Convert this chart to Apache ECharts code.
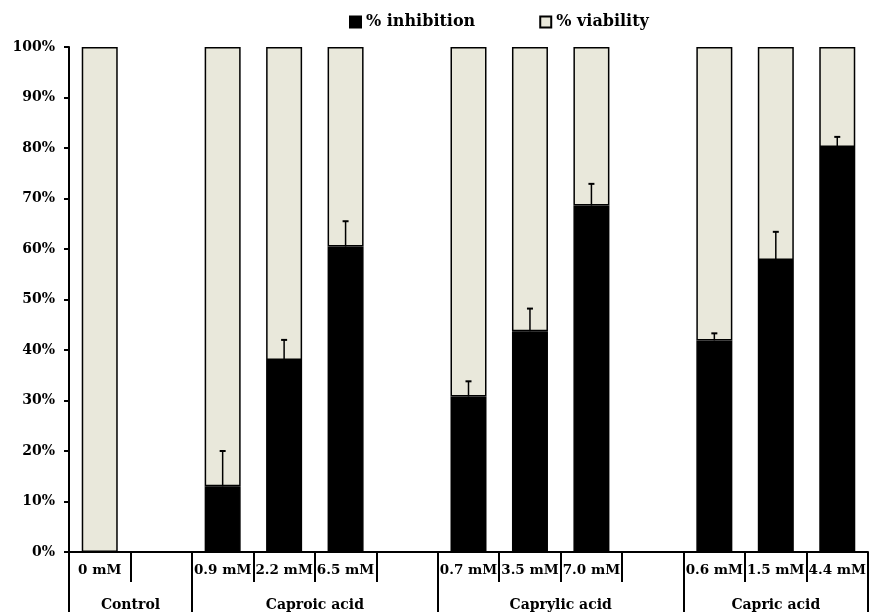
<!DOCTYPE html>
<html>
<head>
<meta charset="utf-8">
<script src="https://cdn.jsdelivr.net/npm/echarts@6/dist/echarts.min.js"></script>
<style>html,body{margin:0;padding:0;background:#fff}#c{width:869px;height:612px}</style>
</head>
<body>
<div id="c"></div>
<script>
const concLabels = ['0 mM', '', '0.9 mM', '2.2 mM', '6.5 mM', '', '0.7 mM', '3.5 mM', '7.0 mM', '', '0.6 mM', '1.5 mM', '4.4 mM'];
const inhibition = [0, null, 13, 38, 60.5, null, 30.8, 43.7, 68.6, null, 41.9, 57.8, 80.2];
const viability = [100, null, 87, 62, 39.5, null, 69.2, 56.3, 31.4, null, 58.1, 42.2, 19.8];
const errors = [0, null, 7, 4, 5, null, 3, 4.5, 4.3, null, 1.4, 5.6, 2];
const groupNames = ['Control', 'Caproic acid', 'Caprylic acid', 'Capric acid'];
const groupCenters = [1, 4, 8, 11.5];
const groupBounds = [0, 2, 6, 10, 13];

const FONT = 'DejaVu Serif';
const errData = [];
inhibition.forEach((v, i) => {
  if (v !== null && errors[i]) errData.push([i, v, v + errors[i]]);
});

const chart = echarts.init(document.getElementById('c'));
chart.setOption({
  animation: false,
  backgroundColor: '#fff',
  grid: { left: 69, right: 1, top: 47, bottom: 59 },
  legend: {
    top: 9, left: 344,
    icon: 'rect', itemWidth: 11, itemHeight: 11, itemGap: 64,
    data: ['% inhibition', '% viability'],
    textStyle: { fontFamily: FONT, fontWeight: 'bold', fontSize: 16, color: '#000' }
  },
  xAxis: [{
    type: 'category',
    data: concLabels,
    axisLine: { lineStyle: { color: '#000', width: 2 } },
    axisTick: { show: true, interval: 0, length: 30, lineStyle: { color: '#000', width: 2 } },
    axisLabel: { interval: 0, margin: 11, fontFamily: FONT, fontWeight: 'bold', fontSize: 13.5, color: '#000' },
    splitLine: { show: false }
  }, {
    type: 'value',
    position: 'bottom',
    min: 0, max: 13,
    axisLine: { show: false },
    splitLine: { show: false },
    axisTick: { show: true, customValues: groupBounds, length: 62, lineStyle: { color: '#000', width: 2 } },
    axisLabel: {
      customValues: groupCenters,
      margin: 46,
      fontFamily: FONT, fontWeight: 'bold', fontSize: 14, color: '#000',
      formatter: v => { const k = groupCenters.indexOf(v); return k >= 0 ? groupNames[k] : ''; }
    }
  }],
  yAxis: {
    type: 'value', min: 0, max: 100, interval: 10,
    axisLine: { show: true, lineStyle: { color: '#000', width: 2 } },
    axisTick: { show: true, length: 5, lineStyle: { color: '#000', width: 2 } },
    axisLabel: { formatter: '{value}%', margin: 14, fontFamily: FONT, fontWeight: 'bold', fontSize: 14, color: '#000' },
    splitLine: { show: false }
  },
  series: [{
    name: '% inhibition', type: 'bar', stack: 's', barWidth: 36,
    itemStyle: { color: '#000', borderColor: '#000', borderWidth: 1.5 },
    data: inhibition
  }, {
    name: '% viability', type: 'bar', stack: 's', barWidth: 36,
    itemStyle: { color: '#e9e8db', borderColor: '#000', borderWidth: 1.5 },
    data: viability
  }, {
    type: 'custom',
    xAxisIndex: 0,
    data: errData,
    encode: { x: 0, y: [1, 2] },
    z: 10,
    renderItem: (params, api) => {
      const lo = api.coord([api.value(0), api.value(1)]);
      const hi = api.coord([api.value(0), api.value(2)]);
      return {
        type: 'group',
        children: [
          { type: 'line', shape: { x1: lo[0], y1: lo[1], x2: hi[0], y2: hi[1] }, style: { stroke: '#000', lineWidth: 1.5 } },
          { type: 'line', shape: { x1: hi[0] - 3, y1: hi[1], x2: hi[0] + 3, y2: hi[1] }, style: { stroke: '#000', lineWidth: 2 } }
        ]
      };
    }
  }]
});
</script>
</body>
</html>
